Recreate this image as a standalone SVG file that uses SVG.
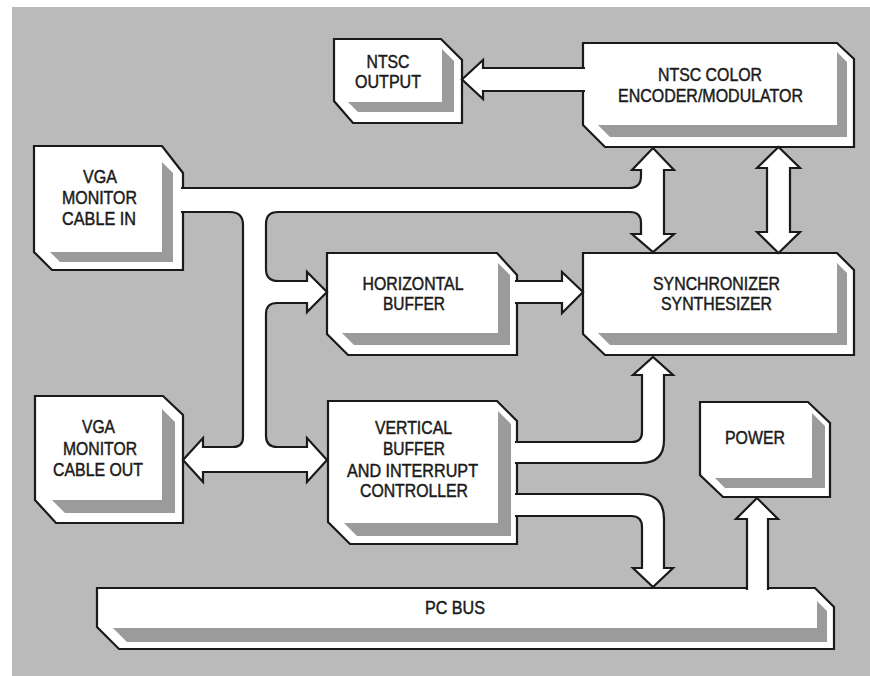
<svg xmlns="http://www.w3.org/2000/svg" width="870" height="676" viewBox="0 0 870 676">
<style>
.box{fill:#ffffff;stroke:#1a1a1a;stroke-width:2.2;stroke-linejoin:miter}
.sh{fill:#9b9b9b;stroke:none}
.lbl{font-family:"Liberation Sans Narrow","Liberation Sans",Arial,sans-serif;font-size:17.5px;fill:#1a1a1a;stroke:#1a1a1a;stroke-width:0.45;text-anchor:middle}
.pipe{fill:#ffffff;stroke:#1a1a1a;stroke-width:2.2;stroke-linejoin:miter}
</style>
<rect x="0" y="0" width="870" height="676" fill="#ffffff"/>
<rect x="12" y="7" width="858" height="669" fill="#bababa"/>

<g id="ntsc-output">
<polygon class="box" points="334,39 441,39 462,60 462,123 353,123 334,101"/>
<polygon class="sh" points="442,49 454,61 454,112 358,112 348,102 442,102"/>
<text class="lbl" x="388" y="68" textLength="43" lengthAdjust="spacingAndGlyphs">NTSC</text>
<text class="lbl" x="388" y="88" textLength="66" lengthAdjust="spacingAndGlyphs">OUTPUT</text>
</g>

<g id="ntsc-encoder">
<polygon class="box" points="583,43 837,43 854,59 854,147 605,147 583,125"/>
<polygon class="sh" points="837,52 847,62 847,137 610,137 598,125 837,125"/>
<text class="lbl" x="710" y="81" textLength="104" lengthAdjust="spacingAndGlyphs">NTSC COLOR</text>
<text class="lbl" x="710.5" y="102" textLength="185" lengthAdjust="spacingAndGlyphs">ENCODER/MODULATOR</text>
</g>

<g id="synchronizer">
<polygon class="box" points="583,253 837,253 854,270 854,355 605,355 583,334"/>
<polygon class="sh" points="837,263 847,273 847,345 610,345 598,333 837,333"/>
<text class="lbl" x="716.5" y="290" textLength="127" lengthAdjust="spacingAndGlyphs">SYNCHRONIZER</text>
<text class="lbl" x="716.5" y="310" textLength="111" lengthAdjust="spacingAndGlyphs">SYNTHESIZER</text>
</g>

<g id="horizontal-buffer">
<polygon class="box" points="327,253 497,253 517,275 517,355 348,355 327,334"/>
<polygon class="sh" points="498,263 510,275 510,345 354,345 342,333 498,333"/>
<text class="lbl" x="413" y="290" textLength="101" lengthAdjust="spacingAndGlyphs">HORIZONTAL</text>
<text class="lbl" x="414" y="310" textLength="62" lengthAdjust="spacingAndGlyphs">BUFFER</text>
</g>

<g id="vertical-buffer">
<polygon class="box" points="328,401 497,401 517,421 517,544 350,544 328,522"/>
<polygon class="sh" points="498,411 511,424 511,536 357,536 344,523 498,523"/>
<text class="lbl" x="413.5" y="434" textLength="77" lengthAdjust="spacingAndGlyphs">VERTICAL</text>
<text class="lbl" x="414" y="455" textLength="62" lengthAdjust="spacingAndGlyphs">BUFFER</text>
<text class="lbl" x="412.5" y="477" textLength="131" lengthAdjust="spacingAndGlyphs">AND INTERRUPT</text>
<text class="lbl" x="414" y="497" textLength="108" lengthAdjust="spacingAndGlyphs">CONTROLLER</text>
</g>

<g id="vga-in">
<polygon class="box" points="34,146 162,146 183,173 183,270 52,270 34,252"/>
<polygon class="sh" points="162,162 173,173 173,262 60,262 50,252 162,252"/>
<text class="lbl" x="100" y="183" textLength="34" lengthAdjust="spacingAndGlyphs">VGA</text>
<text class="lbl" x="99.5" y="204" textLength="75" lengthAdjust="spacingAndGlyphs">MONITOR</text>
<text class="lbl" x="99" y="225" textLength="74" lengthAdjust="spacingAndGlyphs">CABLE IN</text>
</g>

<g id="vga-out">
<polygon class="box" points="35,396 163,396 183,415 183,523 56,523 35,500"/>
<polygon class="sh" points="162,409 175,422 175,513 65,513 52,500 162,500"/>
<text class="lbl" x="98.5" y="433" textLength="33" lengthAdjust="spacingAndGlyphs">VGA</text>
<text class="lbl" x="100" y="455" textLength="74" lengthAdjust="spacingAndGlyphs">MONITOR</text>
<text class="lbl" x="98" y="476" textLength="90" lengthAdjust="spacingAndGlyphs">CABLE OUT</text>
</g>

<g id="power">
<polygon class="box" points="700,402 808,402 830,423 830,497 723,497 700,475"/>
<polygon class="sh" points="812,413 825,426 825,488 725,488 715,478 812,478"/>
<text class="lbl" x="755" y="444" textLength="60" lengthAdjust="spacingAndGlyphs">POWER</text>
</g>

<g id="pc-bus">
<polygon class="box" points="97,588 815,588 834,607 834,649 119,649 97,627"/>
<polygon class="sh" points="817,601 827,611 827,642 127,642 113,628 817,628"/>
<text class="lbl" x="455" y="614" textLength="60" lengthAdjust="spacingAndGlyphs">PC BUS</text>
</g>

<g id="connectors">
<path class="pipe" d="M181,212 H230 Q243,212 243,225 V437 Q243,447 233,447 H203 V438 L183,460 L203,482 V472 H307 V482 L327,460 L307,438 V447 H277 Q266,447 266,436 V314 Q266,303 277,303 H307 V312 L327,292 L307,272 V281 H278 Q266,281 266,269 V224 Q266,212 278,212 H630 Q641,212 641,223 V234 H632 L653,252 L674,234 H664 V170 H674 L653,148 L632,170 H641 V176 Q641,188 629,188 H181"/>
<path class="pipe" d="M585,91 H483 V99 L462,79.5 L483,60 V68 H585"/>
<path class="pipe" d="M767,168 H757 L778.5,147 L800,168 H790 V232 H800 L778.5,253 L757,232 H767 Z"/>
<path class="pipe" d="M515,303 H562 V313 L583,292 L562,272 V281 H515"/>
<path class="pipe" d="M515,463 H641 Q664,463 664,440 V375 H673 L653,357 L633,375 H642 V432 Q642,442 632,442 H515"/>
<path class="pipe" d="M515,494 H639 Q664,494 664,519 V568 H673 L653,587 L633,568 H642 V527 Q642,516 631,516 H515"/>
<path class="pipe" d="M747,590 V519 H736 L757,498 L778,519 H768 V590"/>
</g>
</svg>
